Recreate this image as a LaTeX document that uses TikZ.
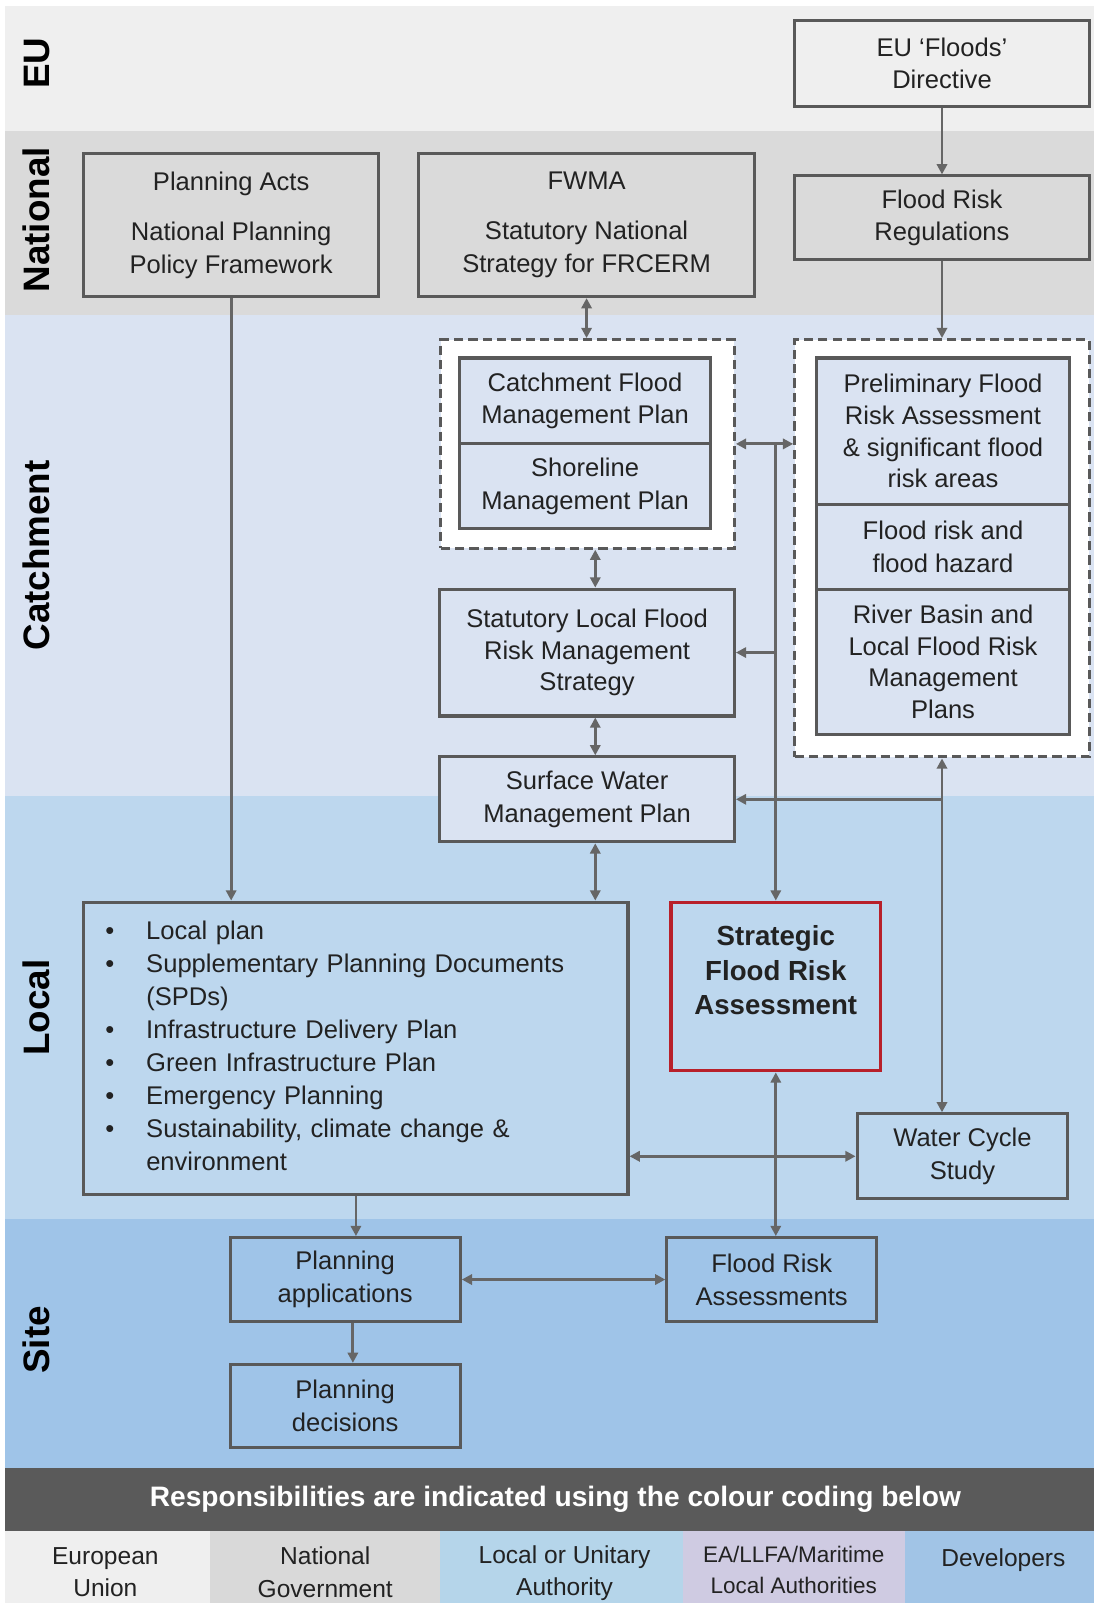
\documentclass[tikz,border=0pt]{standalone}
\usepackage{fontspec}
\setmainfont{Liberation Sans}
\usetikzlibrary{arrows.meta}
\definecolor{euband}{HTML}{EFEFEF}
\definecolor{natband}{HTML}{DADADA}
\definecolor{catband}{HTML}{DAE3F2}
\definecolor{locband}{HTML}{BDD7EE}
\definecolor{siteband}{HTML}{9FC4E8}
\definecolor{darkbar}{HTML}{5A5A5A}
\definecolor{legeu}{HTML}{EFEFEF}
\definecolor{legnat}{HTML}{D9D9D9}
\definecolor{legloc}{HTML}{B5D5EA}
\definecolor{legea}{HTML}{CFCBE2}
\definecolor{legdev}{HTML}{A1C4E6}
\definecolor{boxline}{HTML}{595959}
\definecolor{connc}{HTML}{666666}
\definecolor{txt}{HTML}{222222}
\definecolor{sfrared}{HTML}{B8202A}
\newcommand\bxfont{\fontsize{25}{32}\selectfont}
\newcommand\bndfont{\fontsize{36}{40}\selectfont\bfseries}
\newcommand\lgfont{\fontsize{24}{32}\selectfont}
\tikzset{
  box/.style={draw=boxline, line width=3pt, align=center, font=\bxfont, text=txt, inner sep=0pt},
  dbox/.style={draw=boxline, line width=3pt, dash pattern=on 9pt off 5pt, fill=white, inner sep=0pt},
  conn/.style={draw=connc, line width=2.8pt},
  arr/.style={conn, -{Triangle[length=10pt,width=10pt]}},
  darr/.style={conn, {Triangle[length=10pt,width=10pt]}-{Triangle[length=10pt,width=10pt]}},
  bandlabel/.style={font=\bndfont, rotate=90, text=black, inner sep=0pt},
  legcell/.style={inner sep=0pt, align=center, font=\lgfont, text=txt},
}
\begin{document}
\begin{tikzpicture}[x=1pt,y=-1pt]
\useasboundingbox (0,0) rectangle (1093,1603);
\fill[white] (0,0) rectangle (1093,1603);
\begin{scope}[transform canvas={scale=1.0228}]
% bands
\fill[euband] (5,6) rectangle (1070,128);
\fill[natband] (5,128) rectangle (1070,308);
\fill[catband] (5,308) rectangle (1070,778);
\fill[locband] (5,778) rectangle (1070,1192);
\fill[siteband] (5,1192) rectangle (1070,1435);
\fill[darkbar] (5,1435) rectangle (1070,1497);
% legend cells
\fill[legeu] (5,1497) rectangle (205,1570);
\fill[legnat] (205,1497) rectangle (430,1570);
\fill[legloc] (430,1497) rectangle (668,1570);
\fill[legea] (668,1497) rectangle (885,1570);
\fill[legdev] (885,1497) rectangle (1070,1570);
% band labels
\node[bandlabel] (lbeu) at (36,62) {EU};
\node[bandlabel] (lbnat) at (36,215) {National};
\node[bandlabel] (lbcat) at (36,543) {Catchment};
\node[bandlabel] (lbloc) at (36,985) {Local};
\node[bandlabel] (lbsite) at (36,1310) {Site};
% legend texts
\node[font=\fontsize{27.5}{32}\selectfont\bfseries, text=white, inner sep=0pt] (legtitle) at (543,1466) {Responsibilities are indicated using the colour coding below};
\node[legcell] (lgeu) at (103,1537) {European\\Union};
\node[legcell] (lgnat) at (318,1537) {National\\Government};
\node[legcell] (lgloc) at (552,1538) {Local or Unitary\\Authority};
\node[legcell, font=\fontsize{22}{30}\selectfont] (lgea) at (776,1535) {EA/LLFA/Maritime\\Local Authorities};
\node[legcell] (lgdev) at (981,1525) {Developers};
% national / EU boxes
\node[box, fill=euband, minimum width=288pt, minimum height=84pt] (eu) at (921,62) {EU ‘Floods’\\Directive};
\node[box, fill=natband, minimum width=288pt, minimum height=82pt] (frr) at (921,213) {Flood Risk\\Regulations};
\node[box, fill=natband, minimum width=288pt, minimum height=140pt] (pa) at (226,220) {Planning Acts\\[17pt]National Planning\\Policy Framework};
\node[box, fill=natband, minimum width=329pt, minimum height=140pt] (fwma) at (573.5,220) {FWMA\\[17pt]Statutory National\\Strategy for FRCERM};
% catchment containers
\node[dbox, minimum width=287pt, minimum height=204pt] (ldash) at (574.5,434) {};
\node[dbox, minimum width=288pt, minimum height=408pt] (rdash) at (921,536) {};
\node[box, fill=catband, minimum width=246pt, minimum height=84pt] (cfmp) at (572,392) {Catchment Flood\\Management Plan};
\node[box, fill=catband, minimum width=246pt, minimum height=83pt] (smp) at (572,475.5) {Shoreline\\Management Plan};
\node[box, fill=catband, minimum width=248pt, minimum height=143pt, font=\fontsize{25}{31}\selectfont] (pfra) at (922,421.5) {Preliminary Flood\\Risk Assessment\\\& significant flood\\risk areas};
\node[box, fill=catband, minimum width=248pt, minimum height=83pt] (frfh) at (922,534.5) {Flood risk and\\flood hazard};
\node[box, fill=catband, minimum width=248pt, minimum height=142pt, font=\fontsize{25}{31}\selectfont] (rblf) at (922,647) {River Basin and\\Local Flood Risk\\Management\\Plans};
\node[box, fill=catband, minimum width=288pt, minimum height=124pt, font=\fontsize{25}{31}\selectfont] (slf) at (574,638) {Statutory Local Flood\\Risk Management\\Strategy};
\node[box, fill=catband, minimum width=288pt, minimum height=83pt] (swmp) at (574,781.5) {Surface Water\\Management Plan};
% local
\node[box, fill=locband, minimum width=532pt, minimum height=286pt, text width=490pt, align=left, font=\fontsize{25}{32.4}\selectfont] (lp) at (348,1025) {%
\begin{tabular}{@{}p{40pt}@{}l@{}}
\textbullet & Local plan\\
\textbullet & Supplementary Planning Documents\\
 & (SPDs)\\
\textbullet & Infrastructure Delivery Plan\\
\textbullet & Green Infrastructure Plan\\
\textbullet & Emergency Planning\\
\textbullet & Sustainability, climate change \&\\
 & environment
\end{tabular}};
\node[box, draw=sfrared, fill=locband, minimum width=205pt, minimum height=165pt, font=\fontsize{27}{34}\selectfont\bfseries] (sfra) at (758.5,964.5) {\raisebox{13pt}[\height][\depth]{\begin{tabular}{@{}c@{}}Strategic\\Flood Risk\\Assessment\end{tabular}}};
\node[box, fill=locband, minimum width=206pt, minimum height=83pt] (wcs) at (941,1130.5) {Water Cycle\\Study};
% site
\node[box, fill=siteband, minimum width=225pt, minimum height=82pt] (papp) at (337.5,1251) {Planning\\applications};
\node[box, fill=siteband, minimum width=205pt, minimum height=82pt] (fra) at (754.5,1251) {Flood Risk\\Assessments};
\node[box, fill=siteband, minimum width=225pt, minimum height=81pt] (pd) at (337.5,1374.5) {Planning\\decisions};
% connectors
\coordinate (vx) at (582,0);
\coordinate (px) at (345,0);
\coordinate (jtop) at (sfra.north |- ldash.east);
\draw[arr] (eu) -- (frr);
\draw[arr] (frr) -- (rdash);
\draw[darr] (fwma.south) -- (fwma.south |- ldash.north);
\draw[arr] (pa.south) -- (pa.south |- lp.north);
\draw[darr] (ldash.east) -- (rdash.west |- ldash.east);
\draw[arr] (jtop) -- (sfra.north);
\draw[arr] (sfra.north |- slf.east) -- (slf.east);
\draw[darr] (vx |- ldash.south) -- (vx |- slf.north);
\draw[darr] (vx |- slf.south) -- (vx |- swmp.north);
\draw[darr] (vx |- swmp.south) -- (vx |- lp.north);
\draw[darr] (rdash.south) -- (rdash.south |- wcs.north);
\draw[arr] (rdash.south |- swmp.east) -- (swmp.east);
\draw[darr] (lp.east |- wcs.west) -- (wcs.west);
\draw[darr] (sfra.south) -- (sfra.south |- fra.north);
\draw[arr] (lp.south) -- (lp.south |- papp.north);
\draw[darr] (papp.east) -- (fra.west);
\draw[arr] (px |- papp.south) -- (px |- pd.north);
\end{scope}
\end{tikzpicture}
\end{document}
